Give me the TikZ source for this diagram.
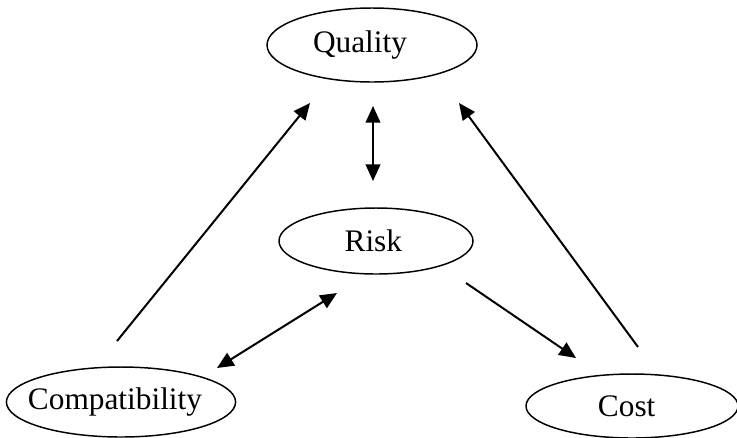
\documentclass[tikz,border=0pt]{standalone}
\usepackage{fontspec}
\setmainfont{Liberation Serif}
\usetikzlibrary{shapes.geometric,arrows.meta}
\begin{document}
\begin{tikzpicture}[x=0.75pt,y=-0.75pt,
  oval/.style={draw,line width=1.1pt,ellipse,inner sep=0pt,font=\fontsize{23.5}{27}\selectfont},
  conn/.style={line width=1.5pt,-{Triangle[length=12.5pt,width=11pt]}},
  dconn/.style={line width=1.5pt,{Triangle[length=12.5pt,width=11pt]}-{Triangle[length=12.5pt,width=11pt]}}]
\useasboundingbox[fill=white] (0,0) rectangle (737,437);
\node[oval,minimum width=210*0.75pt,minimum height=74*0.75pt] (quality) at (372,45) {\hspace*{-18pt}\raisebox{-2pt}{Quality}};
\node[oval,minimum width=194*0.75pt,minimum height=66*0.75pt] (risk) at (376,241) {\hspace*{-4pt}\raisebox{-2pt}{Risk}};
\node[oval,minimum width=218*0.75pt,minimum height=70*0.75pt] (compat) at (121,402) {\hspace*{-9pt}\raisebox{-2pt}{Compatibility}};
\node[oval,minimum width=212*0.75pt,minimum height=64*0.75pt] (cost) at (632,406) {\hspace*{-8pt}\raisebox{-2pt}{Cost}};
\coordinate (qrTop) at (373,106);
\coordinate (qrBot) at (373,181);
\coordinate (cqFrom) at (117,341);
\coordinate (cqTo) at (310,103);
\coordinate (crA) at (217,368);
\coordinate (crB) at (337,293);
\coordinate (rcFrom) at (466,283);
\coordinate (rcTo) at (576,358);
\coordinate (kqFrom) at (638,347);
\coordinate (kqTo) at (459,103);
\draw[dconn] (qrTop) -- (qrBot);
\draw[conn] (cqFrom) -- (cqTo);
\draw[dconn] (crA) -- (crB);
\draw[conn] (rcFrom) -- (rcTo);
\draw[conn] (kqFrom) -- (kqTo);
\end{tikzpicture}
\end{document}
